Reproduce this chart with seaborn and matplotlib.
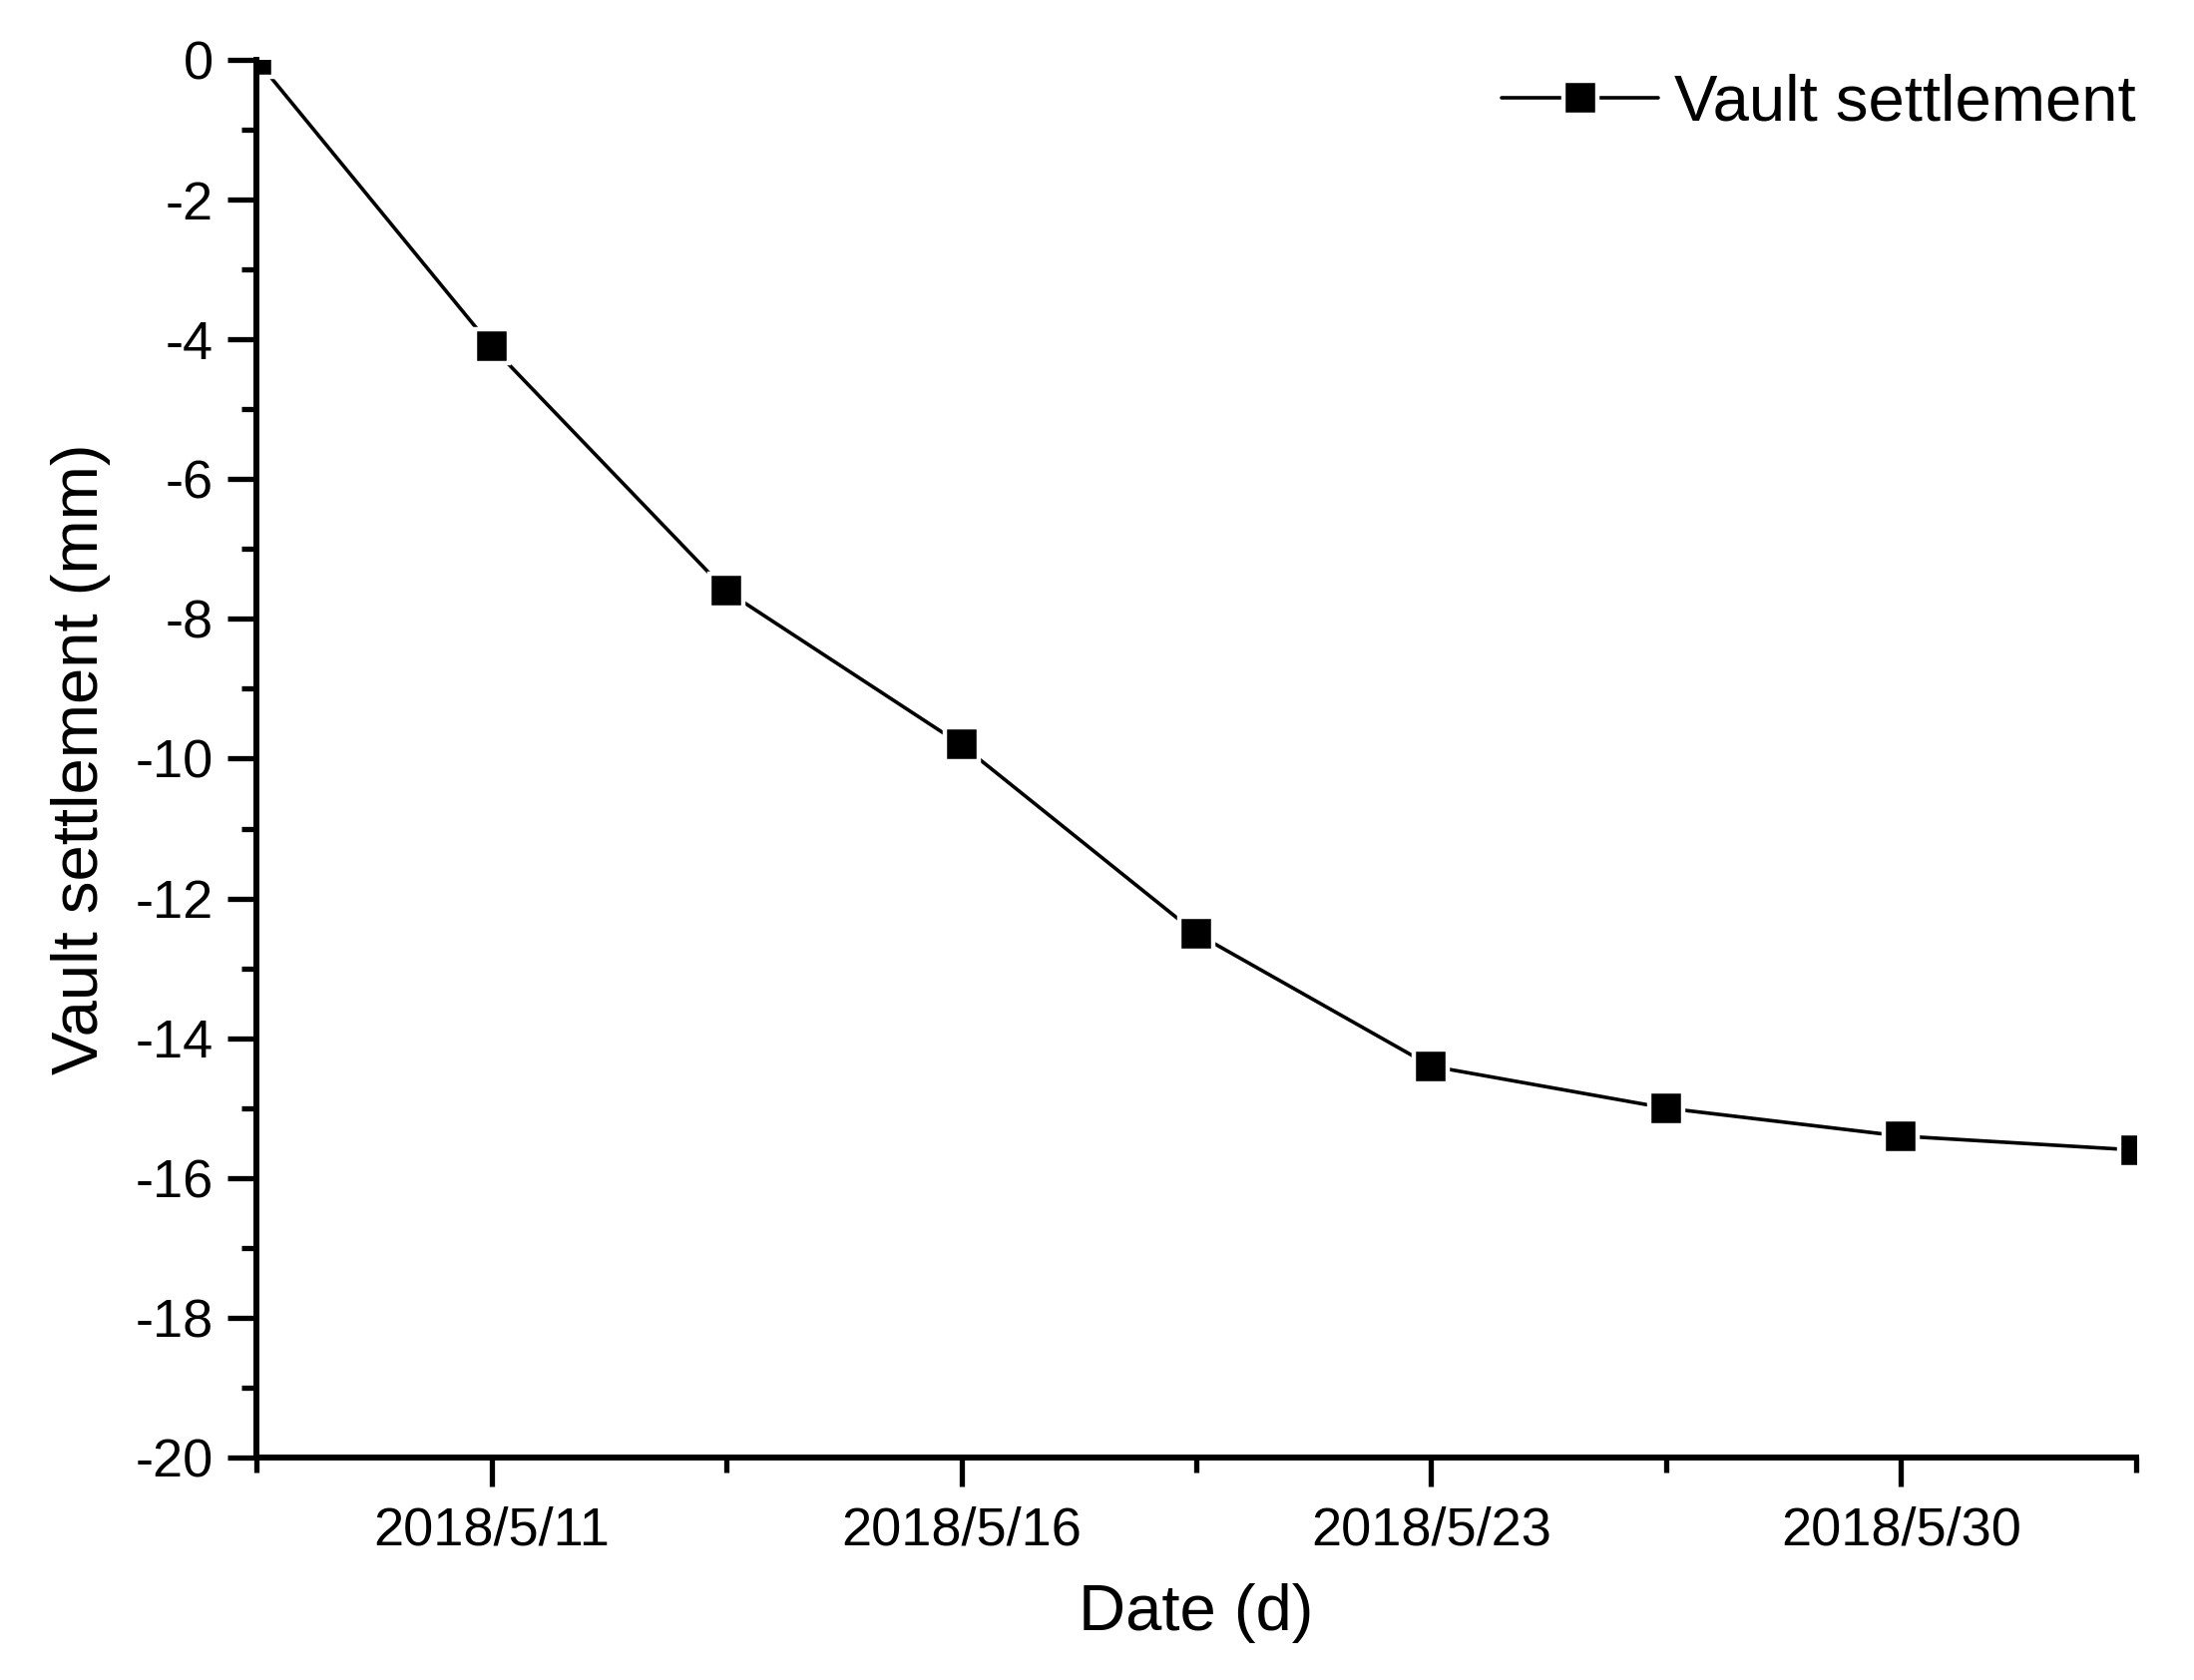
import numpy as np
import pandas as pd
import matplotlib
matplotlib.use("Agg")
import matplotlib.pyplot as plt
import seaborn as sns
from matplotlib.ticker import FixedLocator, NullFormatter

obs_index = [0, 1, 2, 3, 4, 5, 6, 7, 8]
settlement = [0.0, -4.1, -7.6, -9.8, -12.5, -14.4, -15.0, -15.4, -15.6]
tick_pos = [1, 3, 5, 7]
tick_labels = ["2018/5/11", "2018/5/16", "2018/5/23", "2018/5/30"]
minor_pos = [0, 2, 4, 6, 8]
y_major = list(range(-20, 1, 2))
y_minor = list(range(-19, 0, 2))

sns.set_style("ticks")
plt.rcParams['font.family'] = ['Liberation Sans', 'DejaVu Sans']
plt.rcParams['axes.unicode_minus'] = False
plt.rcParams['text.color'] = 'black'
plt.rcParams['axes.labelcolor'] = 'black'
plt.rcParams['xtick.color'] = 'black'
plt.rcParams['ytick.color'] = 'black'

df = pd.DataFrame({'obs': obs_index, 'settlement': settlement})

fig = plt.figure(figsize=(21.99, 16.84), dpi=100)
ax = fig.add_axes([0.1169, 0.1324, 0.8567, 0.8320])

sns.lineplot(data=df, x='obs', y='settlement', ax=ax, color='black', lw=2.6,
             marker='s', markersize=25, markeredgecolor='white', markeredgewidth=3.2,
             markerfacecolor='black', label='Vault settlement')

ax.set_xlim(0, 8)
ax.set_ylim(-20, 0)

ax.xaxis.set_major_locator(FixedLocator(tick_pos))
ax.set_xticklabels(tick_labels)
ax.xaxis.set_minor_locator(FixedLocator(minor_pos))
ax.xaxis.set_minor_formatter(NullFormatter())
ax.yaxis.set_major_locator(FixedLocator(y_major))
ax.yaxis.set_minor_locator(FixedLocator(y_minor))

for s in ['top', 'right']:
    ax.spines[s].set_visible(False)
for s in ['left', 'bottom']:
    ax.spines[s].set_linewidth(4.3)
    ax.spines[s].set_color('black')

ax.tick_params(which='major', length=21, width=3.8, labelsize=39, pad=10, labelcolor='black')
ax.tick_params(which='minor', length=11, width=3.8)
ax.tick_params(axis='x', which='major', pad=14)

ax.set_xlabel('Date (d)', fontsize=47, labelpad=20)
ax.set_ylabel('Vault settlement (mm)', fontsize=47, labelpad=18)

leg = ax.legend(loc='upper right', bbox_to_anchor=(1.0, 0.99), frameon=False,
                fontsize=47, handlelength=2.4, handletextpad=0.25,
                borderaxespad=0.0, borderpad=0.0)
for t in leg.get_texts():
    t.set_color('black')

fig.savefig('out.png', dpi=100)
